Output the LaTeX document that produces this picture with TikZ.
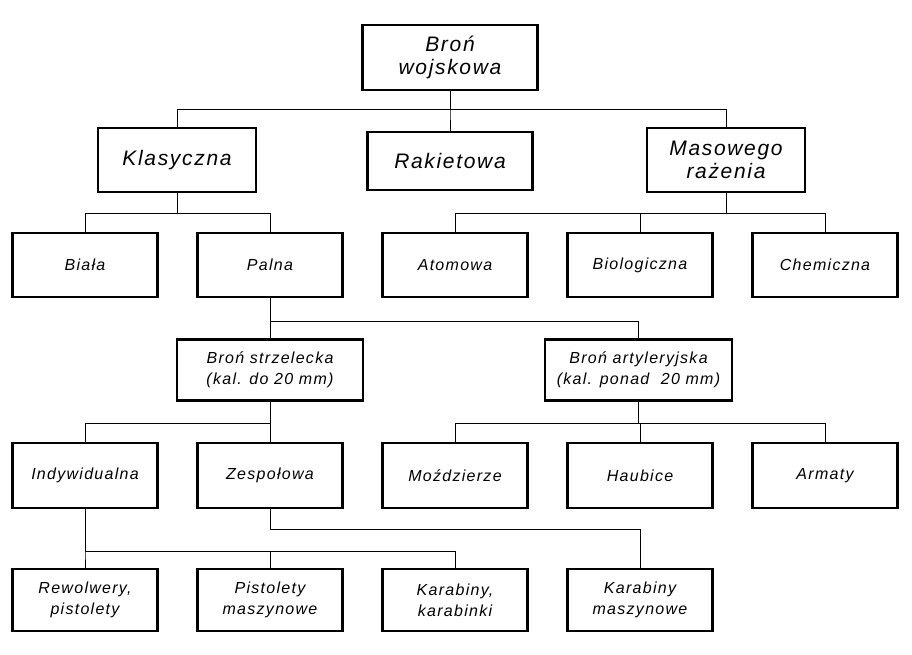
\documentclass[tikz,border=0pt]{standalone}
\usepackage{fontspec}
\setmainfont{Liberation Sans}[LetterSpace=8]
\usepackage{tikz}
\usetikzlibrary{positioning}

\begin{document}
\begin{tikzpicture}[x=1pt,y=-1pt,node distance=37.2pt]
\tikzstyle{every node}=[font=\itshape]
\tikzstyle{box}=[draw, line width=2.8pt, minimum width=145pt, minimum height=64pt, align=center, inner sep=2pt, font=\itshape\fontsize{16}{21}\selectfont]
\tikzstyle{bigbox}=[box, font=\itshape\fontsize{21}{23}\selectfont]
\tikzstyle{branch}=[line width=1pt, to path={(\tikztostart.south) -- ++(0,#1) -| (\tikztotarget.north)}]
\useasboundingbox (0,0) rectangle (912,654);

\node[bigbox, minimum width=175pt, minimum height=65pt] (bron) at (450,57.5) {Broń\\wojskowa};

\node[bigbox, minimum width=158pt] (kla) at (177,160) {Klasyczna};
\node[bigbox, minimum width=165pt, minimum height=58pt] (rak) at (450,161) {Rakietowa};
\node[bigbox, minimum width=158pt] (mas) at (726,160) {Masowego\\rażenia};

\node[box] (biala) at (85,265) {Biała};
\node[box] (palna) [right=of biala] {Palna};
\node[box] (atom) [right=of palna] {Atomowa};
\node[box] (bio) [right=of atom] {Biologiczna};
\node[box] (chem) [right=of bio] {Chemiczna};

\node[box, minimum width=186pt, minimum height=61pt] (strz) at (270,370) {Broń strzelecka\\(kal. do 20 mm)};
\node[box, minimum width=187pt, minimum height=61pt] (art) at (638.5,370) {Broń artyleryjska\\(kal. ponad\ \ 20 mm)};

\node[box, minimum height=65pt] (indyw) at (85,475.5) {Indywidualna};
\node[box, minimum height=65pt] (zesp) [right=of indyw] {Zespołowa};
\node[box, minimum height=65pt] (mozd) [right=of zesp] {Moździerze};
\node[box, minimum height=65pt] (haub) [right=of mozd] {Haubice};
\node[box, minimum height=65pt] (arm) [right=of haub] {Armaty};

\node[box, minimum height=62pt] (rew) at (85,600) {Rewolwery,\\pistolety};
\node[box, minimum height=62pt] (pist) [right=of rew] {Pistolety\\maszynowe};
\node[box, minimum height=62pt] (kar) [right=of pist] {Karabiny,\\karabinki};
\node[box, minimum height=62pt] (karm) [right=of kar] {Karabiny\\maszynowe};

\path
(bron) edge[branch=18] (kla)
edge[branch=18] (rak)
edge[branch=18] (mas)
(kla) edge[branch=20] (biala)
edge[branch=20] (palna)
(mas) edge[branch=20] (atom)
edge[branch=20] (bio)
edge[branch=20] (chem)
(palna) edge[branch=23] (strz)
edge[branch=23] (art)
(strz) edge[branch=22] (indyw)
edge[branch=22] (zesp)
(art) edge[branch=22] (mozd)
edge[branch=22] (haub)
edge[branch=22] (arm)
(indyw) edge[branch=42] (rew)
edge[branch=42] (pist)
edge[branch=42] (kar)
(zesp) edge[branch=20] (karm);
\end{tikzpicture}
\end{document}
